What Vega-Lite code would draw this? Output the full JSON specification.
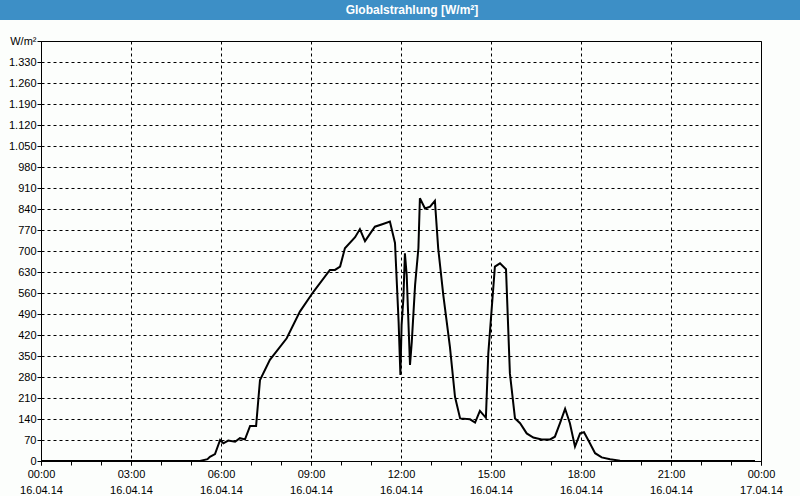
{
  "$schema": "https://vega.github.io/schema/vega-lite/v6.json",
  "background": "#fcfefc",
  "padding": 0,
  "spacing": 21,
  "center": true,
  "bounds": "flush",
  "config": {
    "view": {"stroke": "#000000", "strokeWidth": 1},
    "locale": {"number": {"decimal": ",", "thousands": ".", "grouping": [3], "currency": ["", " €"]}},
    "axis": {
      "domainColor": "#000000",
      "tickColor": "#000000",
      "tickSize": 4,
      "labelColor": "#000000",
      "labelFont": "Liberation Sans",
      "labelFontSize": 11,
      "gridColor": "#000000",
      "gridDash": [3, 3],
      "labelOverlap": false,
      "labelFlush": false,
      "title": null
    }
  },
  "vconcat": [
    {
      "width": 802,
      "height": 20,
      "view": {"fill": "#3d8fc6", "stroke": null},
      "data": {"values": [{"title": "Globalstrahlung [W/m²]"}]},
      "mark": {"type": "text", "color": "#ffffff", "font": "Liberation Sans", "fontWeight": "bold", "fontSize": 12, "dx": 11},
      "encoding": {"text": {"field": "title", "type": "nominal"}}
    },
    {
      "width": 720,
      "height": 420,
      "data": {"values": [
        {"h": 0, "v": 0},
        {"h": 5.3, "v": 0},
        {"h": 5.55, "v": 6},
        {"h": 5.63, "v": 14},
        {"h": 5.8, "v": 23},
        {"h": 5.97, "v": 70},
        {"h": 6.08, "v": 59},
        {"h": 6.24, "v": 68},
        {"h": 6.47, "v": 64},
        {"h": 6.63, "v": 76},
        {"h": 6.8, "v": 72},
        {"h": 6.97, "v": 117},
        {"h": 7.17, "v": 117},
        {"h": 7.3, "v": 270},
        {"h": 7.63, "v": 337},
        {"h": 8.19, "v": 409},
        {"h": 8.63, "v": 498},
        {"h": 9.08, "v": 564},
        {"h": 9.63, "v": 637},
        {"h": 9.8, "v": 637},
        {"h": 9.97, "v": 648},
        {"h": 10.13, "v": 709},
        {"h": 10.47, "v": 746},
        {"h": 10.63, "v": 773},
        {"h": 10.8, "v": 733},
        {"h": 11.13, "v": 781},
        {"h": 11.4, "v": 790},
        {"h": 11.63, "v": 798},
        {"h": 11.8, "v": 727},
        {"h": 11.92, "v": 464},
        {"h": 11.98, "v": 287},
        {"h": 12.02, "v": 453},
        {"h": 12.08, "v": 543},
        {"h": 12.13, "v": 692},
        {"h": 12.19, "v": 620},
        {"h": 12.3, "v": 320},
        {"h": 12.36, "v": 398},
        {"h": 12.47, "v": 587},
        {"h": 12.58, "v": 709},
        {"h": 12.63, "v": 876},
        {"h": 12.8, "v": 842},
        {"h": 12.97, "v": 848},
        {"h": 13.13, "v": 867},
        {"h": 13.24, "v": 709},
        {"h": 13.41, "v": 553},
        {"h": 13.63, "v": 381},
        {"h": 13.8, "v": 214},
        {"h": 13.97, "v": 142},
        {"h": 14.3, "v": 139},
        {"h": 14.47, "v": 128},
        {"h": 14.63, "v": 167},
        {"h": 14.83, "v": 144},
        {"h": 14.91, "v": 359},
        {"h": 15.13, "v": 648},
        {"h": 15.3, "v": 659},
        {"h": 15.5, "v": 639},
        {"h": 15.63, "v": 292},
        {"h": 15.8, "v": 142},
        {"h": 15.97, "v": 126},
        {"h": 16.19, "v": 92},
        {"h": 16.41, "v": 78},
        {"h": 16.69, "v": 72},
        {"h": 16.97, "v": 72},
        {"h": 17.13, "v": 81},
        {"h": 17.3, "v": 126},
        {"h": 17.47, "v": 174},
        {"h": 17.63, "v": 126},
        {"h": 17.8, "v": 48},
        {"h": 17.97, "v": 92},
        {"h": 18.1, "v": 96},
        {"h": 18.24, "v": 70},
        {"h": 18.47, "v": 26},
        {"h": 18.69, "v": 12},
        {"h": 18.97, "v": 6},
        {"h": 19.3, "v": 1},
        {"h": 23.8, "v": 0}
      ]},
      "encoding": {
        "y": {
          "field": "v",
          "type": "quantitative",
          "scale": {"domain": [0, 1400], "nice": false},
          "axis": {
            "values": [0, 70, 140, 210, 280, 350, 420, 490, 560, 630, 700, 770, 840, 910, 980, 1050, 1120, 1190, 1260, 1330, 1400],
            "format": ",d",
            "labelExpr": "datum.value == 1400 ? 'W/m²' : datum.label",
            "labelPadding": 1
          }
        }
      },
      "layer": [
        {
          "mark": {"type": "line", "opacity": 0},
          "encoding": {
            "x": {
              "field": "h",
              "type": "quantitative",
              "scale": {"domain": [0, 24], "nice": false, "zero": false},
              "axis": {
                "orient": "bottom",
                "values": [0, 3, 6, 9, 12, 15, 18, 21, 24],
                "grid": true,
                "labelExpr": "datum.value == 24 ? '00:00' : (datum.value < 10 ? '0' : '') + datum.value + ':00'",
                "labelPadding": 3
              }
            }
          }
        },
        {
          "mark": {"type": "line", "opacity": 0},
          "encoding": {
            "x": {
              "field": "h",
              "type": "quantitative",
              "axis": {
                "orient": "bottom",
                "values": [0, 3, 6, 9, 12, 15, 18, 21, 24],
                "grid": false,
                "domain": false,
                "ticks": false,
                "labelExpr": "datum.value == 24 ? '17.04.14' : '16.04.14'",
                "labelPadding": 23
              }
            }
          }
        },
        {
          "mark": {"type": "line", "color": "#000000", "strokeWidth": 2},
          "encoding": {
            "x": {
              "field": "h",
              "type": "quantitative",
              "axis": {
                "orient": "bottom",
                "values": [0, 1, 2, 3, 4, 5, 6, 7, 8, 9, 10, 11, 12, 13, 14, 15, 16, 17, 18, 19, 20, 21, 22, 23, 24],
                "grid": false,
                "labels": false
              }
            }
          }
        }
      ],
      "resolve": {"axis": {"x": "independent"}}
    }
  ]
}
